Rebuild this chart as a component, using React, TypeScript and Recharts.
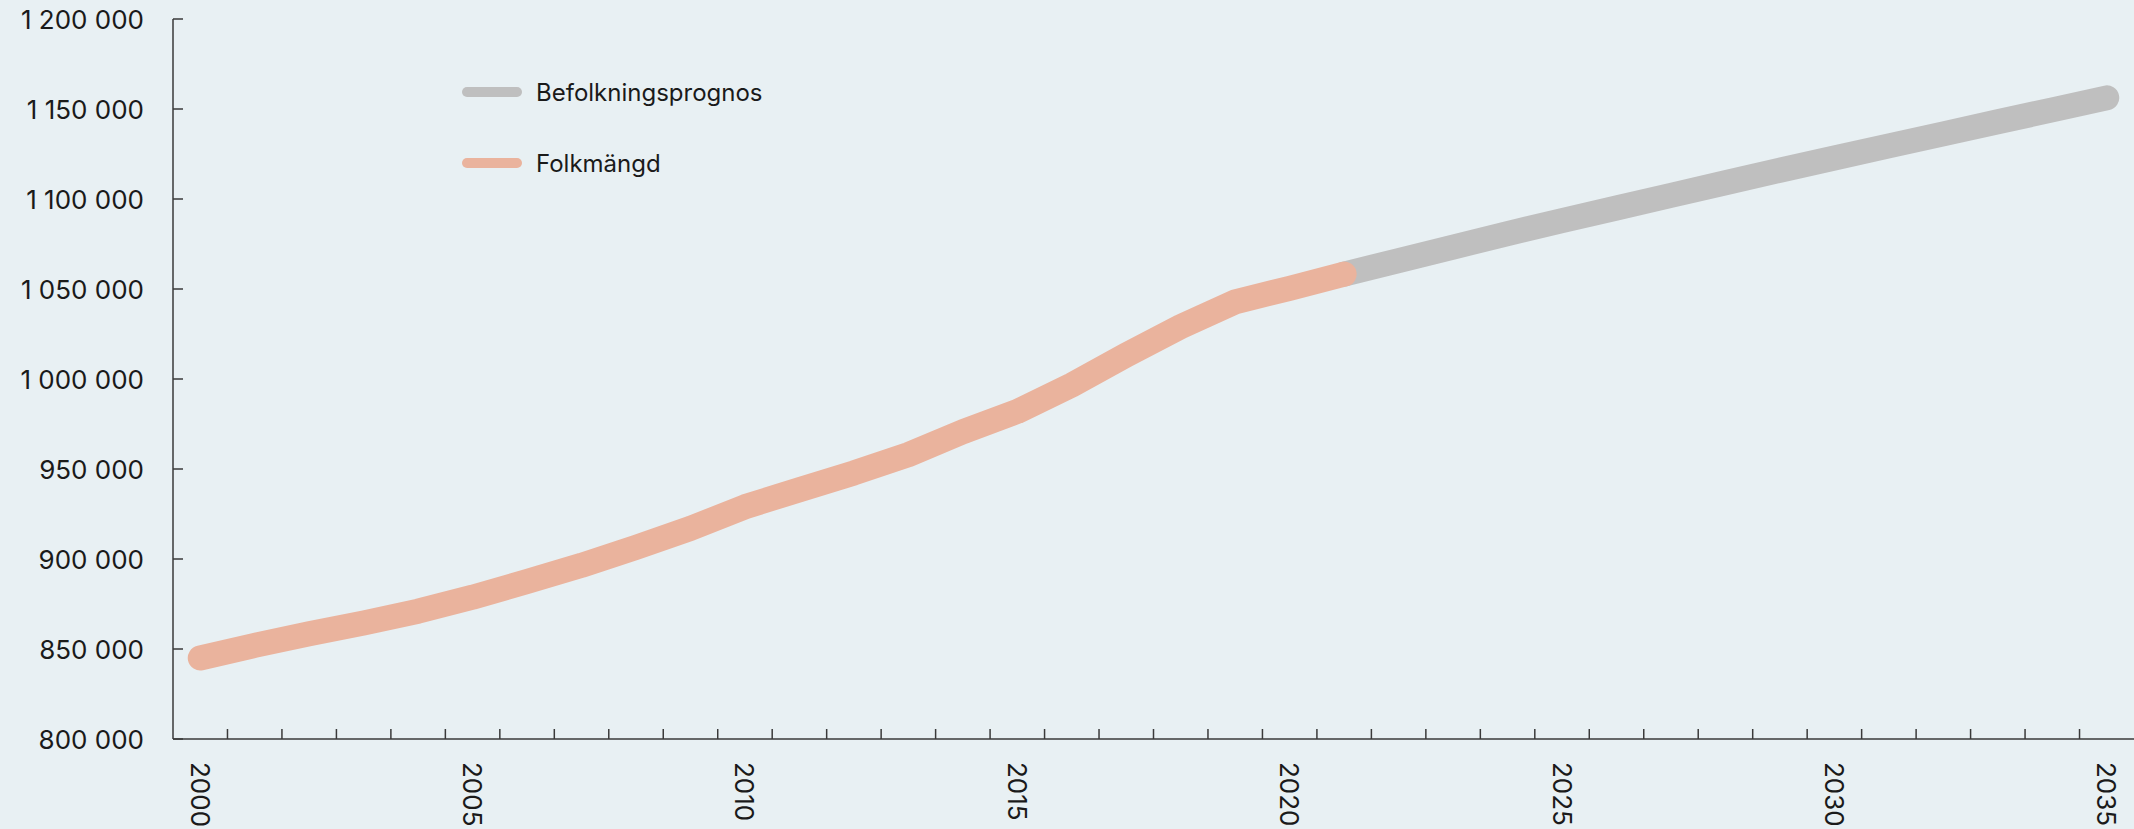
import React from 'react';
import { LineChart, Line, XAxis, YAxis } from 'recharts';

const years = [
  2000, 2001, 2002, 2003, 2004, 2005, 2006, 2007, 2008, 2009, 2010, 2011,
  2012, 2013, 2014, 2015, 2016, 2017, 2018, 2019, 2020, 2021, 2022, 2023,
  2024, 2025, 2026, 2027, 2028, 2029, 2030, 2031, 2032, 2033, 2034, 2035,
];

// 2000-2021
const folkmangd = [
  845000, 852000, 858500, 864500, 871000, 878800, 887500, 896500, 906500,
  917000, 929000, 938500, 947800, 958000, 970700, 982000, 996700, 1013300,
  1029100, 1042900, 1050400, 1058300,
];

// 2021-2035
const prognos = [
  1058300, 1065800, 1073300, 1080800, 1088000, 1095000, 1102000, 1109000,
  1116000, 1122800, 1129500, 1136200, 1142900, 1149500, 1156200,
];

const yTicks = [800000, 850000, 900000, 950000, 1000000, 1050000, 1100000, 1150000, 1200000];
const labelYears = [2000, 2005, 2010, 2015, 2020, 2025, 2030, 2035];
const tickMarks = [
  2000.5, 2001.5, 2002.5, 2003.5, 2004.5, 2005.5, 2006.5, 2007.5, 2008.5,
  2009.5, 2010.5, 2011.5, 2012.5, 2013.5, 2014.5, 2015.5, 2016.5, 2017.5,
  2018.5, 2019.5, 2020.5, 2021.5, 2022.5, 2023.5, 2024.5, 2025.5, 2026.5,
  2027.5, 2028.5, 2029.5, 2030.5, 2031.5, 2032.5, 2033.5, 2034.5,
];

const FOLK = '#eab39d';
const PROG = '#bfbfbf';
const AXIS = '#3a3a3a';
const TEXT = '#1a1a1a';
const FONT = 'Inter, "Noto Sans", sans-serif';

const legendItems = [
  { name: 'Befolkningsprognos', color: PROG },
  { name: 'Folkmängd', color: FOLK },
];

const data = years.map((year, i) => ({
  year,
  folk: i < folkmangd.length ? folkmangd[i] : null,
  prog: i >= folkmangd.length - 1 ? prognos[i - (folkmangd.length - 1)] : null,
}));

const fmt = (v: number) => String(v).replace(/\B(?=(\d{3})+(?!\d))/g, ' ');

const YTick = (props: any) => {
  const { x, y, payload } = props;
  return (
    <g>
      <line x1={x} y1={y} x2={x + 10} y2={y} stroke={AXIS} strokeWidth={1.5} />
      <text x={x - 29} y={y} textAnchor="end" dominantBaseline="central" fill={TEXT} fontSize={26} fontFamily={FONT}>
        {fmt(payload.value)}
      </text>
    </g>
  );
};

const XTick = (props: any) => {
  const { x, y, payload } = props;
  const v = payload.value;
  if (!Number.isInteger(v)) {
    return <line x1={x} y1={y} x2={x} y2={y - 10} stroke={AXIS} strokeWidth={1.5} />;
  }
  if (v % 5 !== 0) return null;
  return (
    <text
      transform={`translate(${x},${y + 23}) rotate(90)`}
      textAnchor="start"
      dominantBaseline="central"
      fill={TEXT}
      fontSize={26}
      fontFamily={FONT}
    >
      {v}
    </text>
  );
};

const allXTicks = [...labelYears, ...tickMarks].sort((a, b) => a - b);

export default function App() {
  return (
    <div style={{ position: 'absolute', left: 0, top: 0, width: 2134, height: 829, background: '#e8f0f3' }}>
      <LineChart width={2134} height={829} data={data} margin={{ top: 19, right: 0, bottom: 0, left: 0 }}>
        <XAxis
          dataKey="year"
          type="number"
          domain={[1999.5, 2035.5]}
          ticks={allXTicks}
          interval={0}
          height={90}
          tickSize={0}
          tickMargin={0}
          tickLine={false}
          axisLine={{ stroke: AXIS, strokeWidth: 1.5 }}
          tick={<XTick />}
        />
        <YAxis
          domain={[800000, 1200000]}
          ticks={yTicks}
          interval={0}
          width={173}
          tickSize={0}
          tickMargin={0}
          tickLine={false}
          axisLine={{ stroke: AXIS, strokeWidth: 1.5 }}
          tick={<YTick />}
        />
        <Line
          dataKey="prog"
          name="Befolkningsprognos"
          stroke={PROG}
          strokeWidth={25}
          strokeLinecap="round"
          strokeLinejoin="round"
          dot={false}
          activeDot={false}
          isAnimationActive={false}
        />
        <Line
          dataKey="folk"
          name="Folkmängd"
          stroke={FOLK}
          strokeWidth={25}
          strokeLinecap="round"
          strokeLinejoin="round"
          dot={false}
          activeDot={false}
          isAnimationActive={false}
        />
      </LineChart>
      <div style={{ position: 'absolute', left: 457, top: 72, fontFamily: FONT }}>
        {legendItems.map((it, i) => (
          <div key={it.name} style={{ position: 'absolute', left: 0, top: i * 71, height: 40, display: 'flex', alignItems: 'center', whiteSpace: 'nowrap' }}>
            <svg width={70} height={12} style={{ display: 'block' }}>
              <line x1={10} y1={6} x2={60} y2={6} stroke={it.color} strokeWidth={10} strokeLinecap="round" />
            </svg>
            <span style={{ marginLeft: 9, fontSize: 24, color: TEXT }}>{it.name}</span>
          </div>
        ))}
      </div>
    </div>
  );
}
